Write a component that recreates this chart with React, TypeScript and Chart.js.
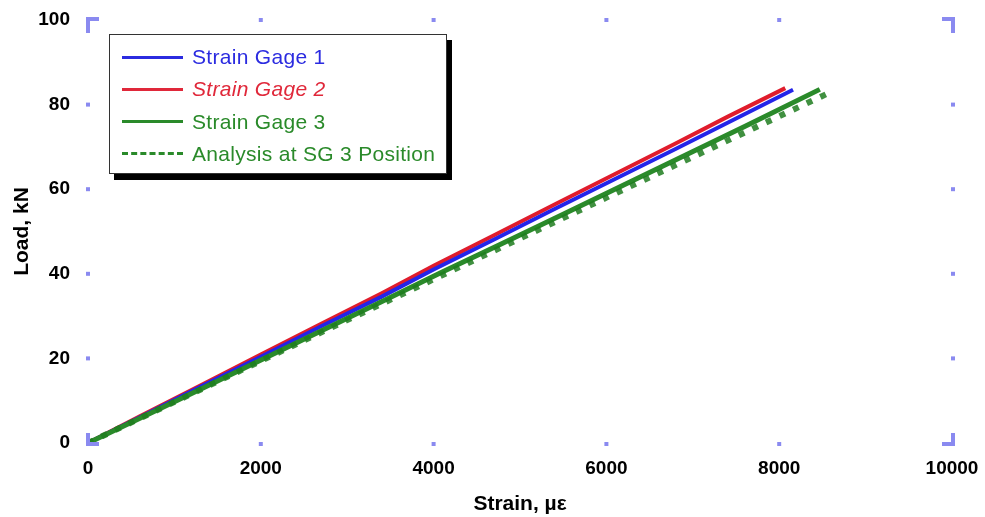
import React, { useEffect, useRef } from "react";
import { Chart, registerables } from "chart.js";

Chart.register(...registerables);

// ---- Data (strain in microstrain, load in kN) ----
const sg1Strain = [0, 600, 1300, 2000, 2700, 3400, 4000, 4700, 5400, 6100, 6800, 7420, 8160];
const sg1Load = [0, 6.1, 13.3, 20.4, 27.6, 34.6, 41.0, 48.1, 55.3, 62.4, 69.5, 75.9, 83.5];

const sg2Strain = [0, 600, 1300, 2000, 2700, 3400, 4000, 4700, 5400, 6100, 6800, 7400, 8070];
const sg2Load = [0, 6.3, 13.6, 20.9, 28.2, 35.4, 41.9, 49.1, 56.4, 63.6, 70.8, 77.1, 83.9];

const sg3Strain = [0, 650, 1350, 2050, 2750, 3450, 4100, 4800, 5500, 6200, 6900, 7600, 8470];
const sg3Load = [0, 6.3, 13.2, 20.1, 27.0, 33.9, 40.4, 47.2, 54.1, 61.0, 67.9, 74.8, 83.6];

const anaStrain = [0, 2000, 4000, 6000, 8620];
const anaLoad = [0, 19.4, 38.7, 58.0, 83.2];

const xTicks = [0, 2000, 4000, 6000, 8000, 10000];
const yTicks = [0, 20, 40, 60, 80, 100];

const legendItems = [
  { label: "Strain Gage 1", color: "#2b2be0", dashed: false, italic: false },
  { label: "Strain Gage 2", color: "#e0283a", dashed: false, italic: true },
  { label: "Strain Gage 3", color: "#2a8a2a", dashed: false, italic: false },
  { label: "Analysis at SG 3 Position", color: "#2a8a2a", dashed: true, italic: false },
];

const toPts = (xs: number[], ys: number[]) => xs.map((x, i) => ({ x, y: ys[i] }));

const FONT = "'Liberation Sans', Arial, sans-serif";

const tickMarks = {
  id: "tickMarks",
  afterDraw(chart: any) {
    const { ctx, chartArea } = chart;
    const { left, right, top, bottom } = chartArea;
    const xs = chart.scales.x;
    const ys = chart.scales.y;
    ctx.save();
    ctx.fillStyle = "#8a8af0";
    xTicks.slice(1, -1).forEach((v) => {
      const px = xs.getPixelForValue(v);
      ctx.fillRect(px - 2, top - 2, 4, 4);
      ctx.fillRect(px - 2, bottom - 1, 4, 4);
    });
    yTicks.slice(1, -1).forEach((v) => {
      const py = ys.getPixelForValue(v);
      ctx.fillRect(left - 2, py - 2, 4, 4);
      ctx.fillRect(right - 1, py - 2, 4, 4);
    });
    // corners
    ctx.fillRect(left - 2, top - 3, 13, 4);
    ctx.fillRect(left - 2, top - 3, 4, 16);
    ctx.fillRect(right - 10, top - 3, 13, 4);
    ctx.fillRect(right - 1, top - 3, 4, 16);
    ctx.fillRect(left - 2, bottom - 1, 13, 4);
    ctx.fillRect(left - 2, bottom - 10, 4, 13);
    ctx.fillRect(right - 10, bottom - 1, 13, 4);
    ctx.fillRect(right - 1, bottom - 10, 4, 13);
    ctx.restore();
  },
};

export default function App() {
  const canvasRef = useRef<HTMLCanvasElement | null>(null);

  useEffect(() => {
    document.body.style.margin = "0";
    const canvas = canvasRef.current;
    if (!canvas) return;
    const chart = new Chart(canvas, {
      type: "line",
      data: {
        datasets: [
          {
            label: "Analysis at SG 3 Position",
            data: toPts(anaStrain, anaLoad),
            borderColor: "rgba(30,125,30,0.85)",
            borderWidth: 6,
            borderDash: [6, 9],
            pointRadius: 0,
            tension: 0,
          },
          {
            label: "Strain Gage 3",
            data: toPts(sg3Strain, sg3Load),
            borderColor: "#2a8a2a",
            borderWidth: 5,
            pointRadius: 0,
            tension: 0,
          },
          {
            label: "Strain Gage 1",
            data: toPts(sg1Strain, sg1Load),
            borderColor: "#2424e8",
            borderWidth: 4,
            pointRadius: 0,
            tension: 0,
          },
          {
            label: "Strain Gage 2",
            data: toPts(sg2Strain, sg2Load),
            borderColor: "#e01c2c",
            borderWidth: 4,
            pointRadius: 0,
            tension: 0,
          },
        ],
      },
      options: {
        responsive: false,
        animation: false,
        parsing: false as any,
        layout: { padding: { left: 0, right: 33, top: 20, bottom: 0 } },
        plugins: { legend: { display: false }, tooltip: { enabled: false } },
        scales: {
          x: {
            type: "linear",
            min: 0,
            max: 10000,
            grid: {
              display: true,
              drawOnChartArea: false,
              drawTicks: true,
              tickLength: 14,
              color: "rgba(0,0,0,0)",
            },
            border: { display: false },
            afterFit: (s: any) => {
              s.height = 74;
            },
            afterBuildTicks: (s: any) => {
              s.ticks = xTicks.map((v) => ({ value: v }));
            },
            ticks: {
              padding: 0,
              color: "#000",
              font: { family: FONT, size: 19, weight: "bold" },
              maxRotation: 0,
              callback: (v: any) => String(v),
            },
            title: {
              display: true,
              text: "Strain, µε",
              color: "#000",
              padding: { top: 12, bottom: 0 },
              font: { family: FONT, size: 21, weight: "bold" },
            },
          },
          y: {
            type: "linear",
            min: 0,
            max: 100,
            grid: {
              display: true,
              drawOnChartArea: false,
              drawTicks: true,
              tickLength: 18,
              color: "rgba(0,0,0,0)",
            },
            border: { display: false },
            afterFit: (s: any) => {
              s.width = 88;
            },
            afterBuildTicks: (s: any) => {
              s.ticks = yTicks.map((v) => ({ value: v }));
            },
            ticks: {
              padding: 0,
              color: "#000",
              font: { family: FONT, size: 19, weight: "bold" },
              callback: (v: any) => String(v),
            },
            title: {
              display: true,
              text: "Load, kN",
              color: "#000",
              padding: { top: 10, bottom: 0 },
              font: { family: FONT, size: 21, weight: "bold" },
            },
          },
        },
      },
      plugins: [tickMarks],
    });
    return () => chart.destroy();
  }, []);

  return (
    <div style={{ position: "relative", width: 985, height: 517, background: "#fff" }}>
      <canvas ref={canvasRef} width={985} height={517} style={{ display: "block" }} />
      <div
        style={{
          position: "absolute",
          left: 109,
          top: 34,
          width: 336,
          height: 138,
          border: "1.5px solid #333",
          background: "#fff",
          boxShadow: "5px 6px 0 #000",
          fontFamily: FONT,
          fontSize: 21,
          letterSpacing: 0.3,
        }}
      >
        {legendItems.map((it, i) => (
          <div
            key={it.label}
            style={{
              position: "absolute",
              left: 0,
              top: 7 + i * 32.3,
              height: 30,
              display: "flex",
              alignItems: "center",
              whiteSpace: "nowrap",
            }}
          >
            <div
              style={{
                marginLeft: 12,
                width: 61,
                height: 0,
                borderTop: it.dashed ? `3px dashed ${it.color}` : `3px solid ${it.color}`,
              }}
            />
            <span
              style={{
                marginLeft: 9,
                color: it.color,
                fontStyle: it.italic ? "italic" : "normal",
              }}
            >
              {it.label}
            </span>
          </div>
        ))}
      </div>
    </div>
  );
}
